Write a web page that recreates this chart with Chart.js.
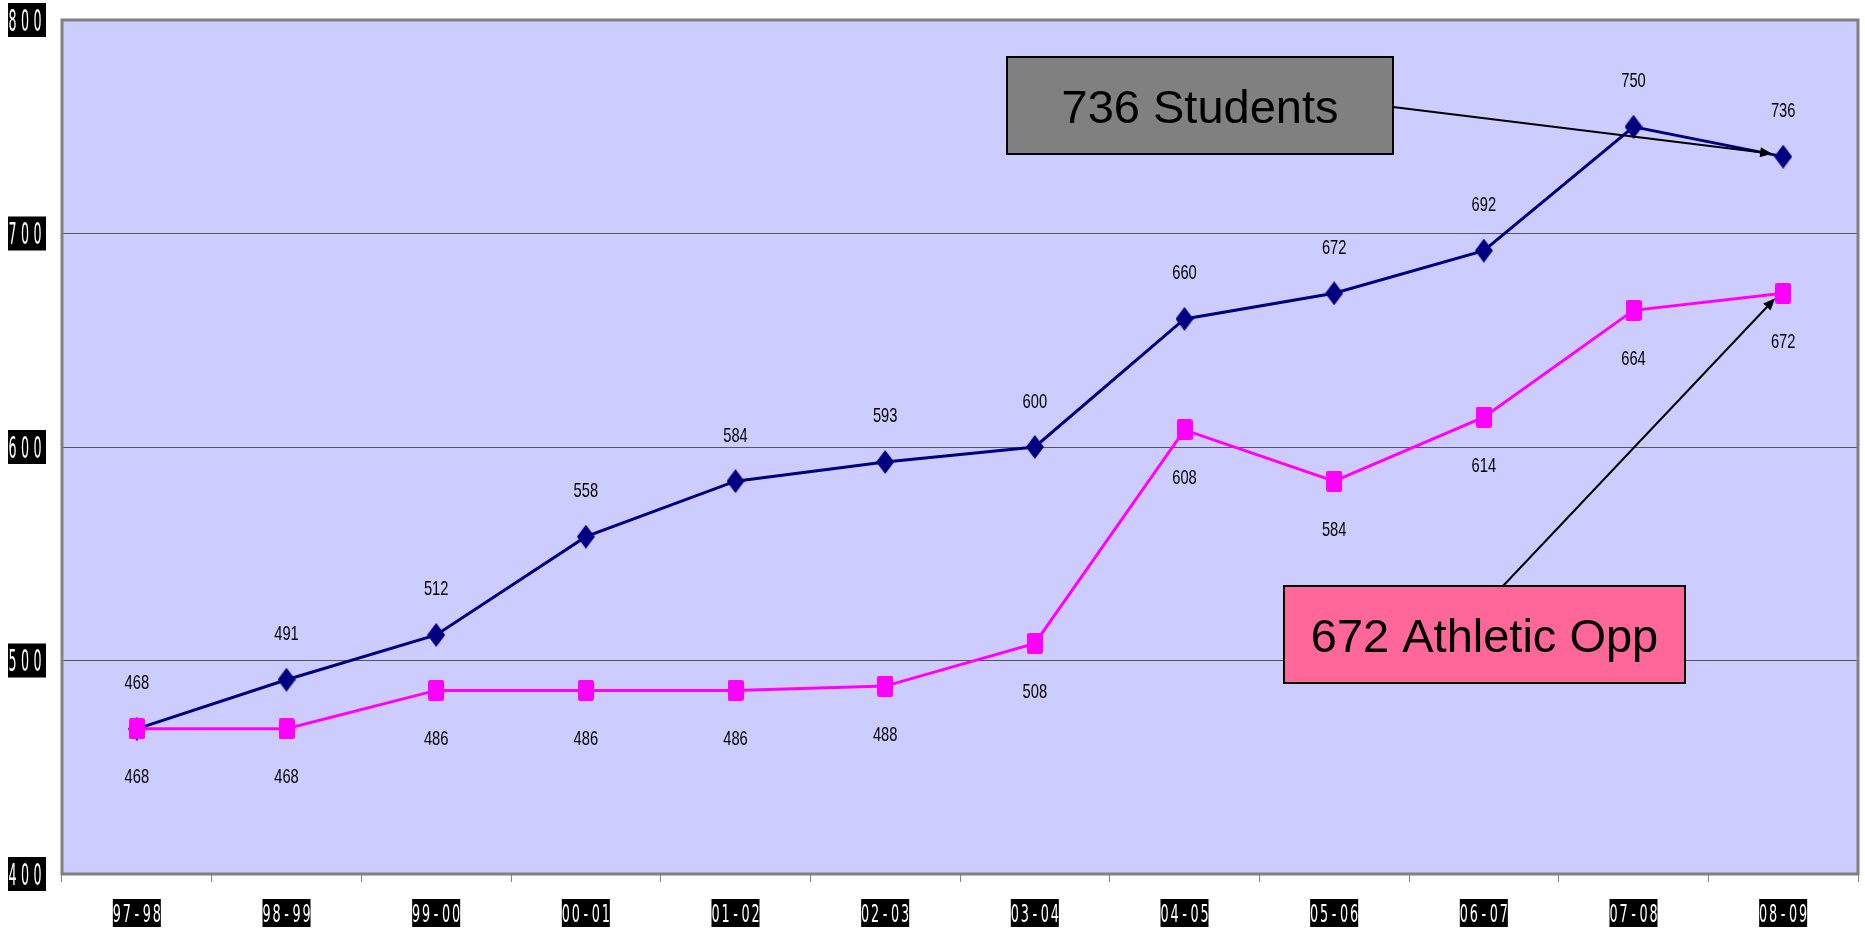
<!DOCTYPE html>
<html>
<head>
<meta charset="utf-8">
<script src="https://cdn.jsdelivr.net/npm/chart.js@4.4.1/dist/chart.umd.min.js"></script>
<style>
  html, body { margin: 0; padding: 0; background: #fff; }
  canvas { display: block; }
</style>
</head>
<body>
<canvas id="enrollChart" width="1865" height="937"></canvas>
<script>
// school years on the x axis
var seasons = ["97-98", "98-99", "99-00", "00-01", "01-02", "02-03", "03-04", "04-05", "05-06", "06-07", "07-08", "08-09"];
// enrolled students
var students = [468, 491, 512, 558, 584, 593, 600, 660, 672, 692, 750, 736];
// athletic opportunities
var athleticOpp = [468, 468, 486, 486, 486, 488, 508, 608, 584, 614, 664, 672];
var yTicks = [400, 500, 600, 700, 800];
var noteStudents = "736 Students";
var noteAthletic = "672 Athletic Opp";

var NARROW = '"Liberation Sans Narrow", "Arial Narrow", "DejaVu Sans Condensed", sans-serif';
var PLAIN = '"Liberation Sans", Arial, sans-serif';

function makeDiamond(w, h, color) {
    var c = document.createElement('canvas');
    c.width = w; c.height = h;
    var g = c.getContext('2d');
    g.fillStyle = color;
    g.beginPath();
    g.moveTo(w / 2, 0);
    g.lineTo(w, h / 2);
    g.lineTo(w / 2, h);
    g.lineTo(0, h / 2);
    g.closePath();
    g.fill();
    return c;
}

function makeSquare(w, h, color) {
    var c = document.createElement('canvas');
    c.width = w; c.height = h;
    var g = c.getContext('2d');
    g.fillStyle = color;
    g.beginPath();
    g.roundRect(0, 0, w, h, 2);
    g.fill();
    return c;
}

// squeezed, spaced out characters like the old axis font
function squeezeText(ctx, text, cx, cy, size, sx, pitch) {
    ctx.font = size + 'px ' + NARROW;
    ctx.textAlign = 'center';
    ctx.textBaseline = 'alphabetic';
    var n = text.length;
    for (var i = 0; i < n; i++) {
        ctx.save();
        ctx.translate(cx + (i - (n - 1) / 2) * pitch, cy + size * 0.36);
        ctx.scale(sx, 1);
        ctx.fillText(text[i], 0, 0);
        ctx.restore();
    }
}

function drawArrow(ctx, x1, y1, x2, y2) {
    var a = Math.atan2(y2 - y1, x2 - x1);
    var len = 12, half = 5;
    ctx.strokeStyle = '#000';
    ctx.fillStyle = '#000';
    ctx.lineWidth = 2;
    ctx.beginPath();
    ctx.moveTo(x1, y1);
    ctx.lineTo(x2 - Math.cos(a) * len * 0.8, y2 - Math.sin(a) * len * 0.8);
    ctx.stroke();
    ctx.beginPath();
    ctx.moveTo(x2, y2);
    ctx.lineTo(x2 - Math.cos(a) * len - Math.sin(a) * half, y2 - Math.sin(a) * len + Math.cos(a) * half);
    ctx.lineTo(x2 - Math.cos(a) * len + Math.sin(a) * half, y2 - Math.sin(a) * len - Math.cos(a) * half);
    ctx.closePath();
    ctx.fill();
}

function drawNote(ctx, text, box, fill) {
    ctx.fillStyle = fill;
    ctx.fillRect(box.x, box.y, box.w, box.h);
    ctx.strokeStyle = '#000';
    ctx.lineWidth = 2;
    ctx.strokeRect(box.x, box.y, box.w, box.h);
    ctx.fillStyle = '#000';
    ctx.font = '47px ' + PLAIN;
    ctx.textAlign = 'center';
    ctx.textBaseline = 'alphabetic';
    ctx.fillText(text, box.x + box.w / 2, box.y + box.h / 2 + 17);
}

var plotDecor = {
    id: 'plotDecor',
    beforeDraw: function (chart) {
        var a = chart.chartArea, ctx = chart.ctx;
        ctx.save();
        ctx.fillStyle = '#fff';
        ctx.fillRect(0, 0, chart.width, chart.height);
        ctx.fillStyle = '#CCCCFF';
        ctx.fillRect(a.left, a.top, a.right - a.left, a.bottom - a.top);
        ctx.restore();
    },
    beforeDatasetsDraw: function (chart) {
        var a = chart.chartArea, ctx = chart.ctx;
        ctx.save();
        ctx.strokeStyle = '#808080';
        ctx.lineWidth = 3;
        ctx.strokeRect(a.left, a.top, a.right - a.left, a.bottom - a.top);
        ctx.restore();
    },
    afterDatasetsDraw: function (chart) {
        var ctx = chart.ctx;
        ctx.save();
        // value labels: students above, athletic below
        chart.data.datasets.forEach(function (ds, di) {
            var meta = chart.getDatasetMeta(di);
            var below = ds.label === 'Athletic Opp';
            meta.data.forEach(function (pt, i) {
                ctx.save();
                ctx.font = '21px ' + PLAIN;
                ctx.fillStyle = '#000';
                ctx.textAlign = 'center';
                ctx.textBaseline = 'alphabetic';
                ctx.translate(pt.x, below ? pt.y + 47 + 7.5 : pt.y - 47 + 7.5);
                ctx.scale(0.7, 1);
                ctx.fillText(String(ds.data[i]), 0, 0);
                ctx.restore();
            });
        });

        var sMeta = chart.getDatasetMeta(0).data;
        var aMeta = chart.getDatasetMeta(1).data;
        var sLast = sMeta[sMeta.length - 1];
        var aLast = aMeta[aMeta.length - 1];

        var sBox = { x: 1007, y: 57, w: 386, h: 97 };
        var aBox = { x: 1284, y: 586, w: 401, h: 97 };
        drawNote(ctx, noteStudents, sBox, '#808080');
        drawNote(ctx, noteAthletic, aBox, '#FF6699');
        drawArrow(ctx, sBox.x + sBox.w, 107, sLast.x - 11, sLast.y - 3);
        drawArrow(ctx, 1503, aBox.y, aLast.x - 8, aLast.y + 5);
        ctx.restore();
    },
    afterDraw: function (chart) {
        var ctx = chart.ctx;
        var ys = chart.scales.y, xs = chart.scales.x;
        ctx.save();
        ys.ticks.forEach(function (t) {
            var y = ys.getPixelForValue(t.value);
            ctx.fillStyle = '#000';
            ctx.fillRect(8, y - 17, 38, 34);
            ctx.fillStyle = '#fff';
            squeezeText(ctx, String(t.value), 25, y, 30, 0.47, 12.5);
        });
        seasons.forEach(function (s, i) {
            var x = xs.getPixelForValue(i);
            ctx.fillStyle = '#000';
            ctx.fillRect(x - 24, 899, 48, 28);
            ctx.fillStyle = '#fff';
            squeezeText(ctx, s, x, 913, 25, 0.57, 10);
        });
        ctx.restore();
    }
};

var ctx = document.getElementById('enrollChart').getContext('2d');

var chart = new Chart(ctx, {
    type: 'line',
    data: {
        labels: seasons,
        datasets: [{
            label: 'Students',
            data: students,
            borderColor: '#000080',
            backgroundColor: '#000080',
            borderWidth: 3,
            tension: 0,
            pointStyle: makeDiamond(18, 24, '#000080'),
            order: 2
        }, {
            label: 'Athletic Opp',
            data: athleticOpp,
            borderColor: '#FF00FF',
            backgroundColor: '#FF00FF',
            borderWidth: 3,
            tension: 0,
            pointStyle: makeSquare(16, 21, '#FF00FF'),
            order: 1
        }]
    },
    options: {
        responsive: false,
        animation: false,
        devicePixelRatio: 1,
        layout: { padding: { top: 20, right: 7, left: 0, bottom: 0 } },
        plugins: {
            legend: { display: false },
            tooltip: { enabled: false }
        },
        scales: {
            x: {
                offset: true,
                grid: { offset: true, drawOnChartArea: false, drawTicks: true, tickLength: 8, color: '#808080', lineWidth: 1 },
                border: { display: false },
                ticks: { display: false },
                afterFit: function (s) { s.height = 63; }
            },
            y: {
                min: 400,
                max: 800,
                afterBuildTicks: function (s) { s.ticks = yTicks.map(function (v) { return { value: v }; }); },
                grid: { color: '#555', lineWidth: 1, drawTicks: false },
                border: { display: false },
                ticks: { display: false },
                afterFit: function (s) { s.width = 62; }
            }
        }
    },
    plugins: [plotDecor]
});
</script>
</body>
</html>
